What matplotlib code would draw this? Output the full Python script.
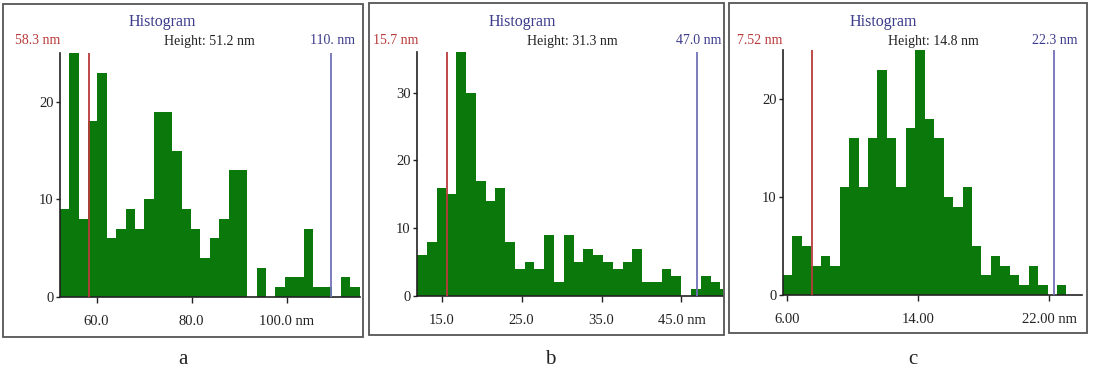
import matplotlib
matplotlib.use('Agg')
import matplotlib.pyplot as plt
from matplotlib.patches import Rectangle
import numpy as np

plt.rcParams['font.family'] = ['Liberation Serif', 'DejaVu Serif']

W, H = 1098, 369

# histogram counts, 32 bins each
counts_a = [9, 25, 8, 18, 23, 6, 7, 9, 7, 10, 19, 19, 15, 9, 7, 4,
            6, 8, 13, 13, 0, 3, 0, 1, 2, 2, 7, 1, 1, 0, 2, 1]
counts_b = [6, 8, 16, 15, 36, 30, 17, 14, 16, 8, 4, 5, 4, 9, 2, 9,
            5, 7, 6, 5, 4, 5, 7, 2, 2, 4, 3, 0, 1, 3, 2, 1]
counts_c = [2, 6, 5, 3, 4, 3, 11, 16, 11, 16, 23, 16, 11, 17, 25, 18,
            16, 10, 9, 11, 5, 2, 4, 3, 2, 1, 3, 1, 0, 1, 0, 0]

# first bin edge and bin width (nm)
bins_a = (52.3, 1.97)
bins_b = (11.9, 1.225)
bins_c = (5.74, 0.577)

xlim_a = (52.3, 115.4)
xlim_b = (11.9, 50.2)
xlim_c = (5.74, 24.0)
ymax = [25, 36, 25]

xticks_a = [60, 80, 100]
xticks_b = [15, 25, 35, 45]
xticks_c = [6, 14, 22]
xlabels_a = ['60.0', '80.0', '100.0 nm']
xlabels_b = ['15.0', '25.0', '35.0', '45.0 nm']
xlabels_c = ['6.00', '14.00', '22.00 nm']
yticks_a = [0, 10, 20]
yticks_b = [0, 10, 20, 30]
yticks_c = [0, 10, 20]

# cursor positions and header texts
red_pos = [58.3, 15.7, 7.52]
blue_pos = [109.2, 47.0, 22.3]
red_txt = ['58.3 nm', '15.7 nm', '7.52 nm']
blue_txt = ['110. nm', '47.0 nm', '22.3 nm']
height_txt = ['Height: 51.2 nm', 'Height: 31.3 nm', 'Height: 14.8 nm']
letters = ['a', 'b', 'c']

green = '#0a780a'
red = '#b83a3a'
blue = '#3c3c8c'


def fx(px):
    return px / W


def fy(py):
    return 1 - py / H


fig = plt.figure(figsize=(W / 100, H / 100), dpi=100)

# axes rectangles in pixels: left, right, top, baseline
ax_px = [(60, 360, 53, 297), (417, 723, 52, 296), (783, 1082, 50, 295)]
box_px = [(3, 363, 4, 337), (369, 724, 3, 335), (729, 1087, 3, 333)]
# header text centres (x) for red label, Histogram, Height, blue label
hdr_px = [(38, 162, 209, 332), (396, 522, 572, 699), (760, 883, 933, 1055)]
letter_x = [183, 550, 913]

data = [(counts_a, bins_a, xlim_a, xticks_a, xlabels_a, yticks_a),
        (counts_b, bins_b, xlim_b, xticks_b, xlabels_b, yticks_b),
        (counts_c, bins_c, xlim_c, xticks_c, xlabels_c, yticks_c)]

for i, (cnt, bn, xl, xt, xlab, yt) in enumerate(data):
    l, r, t, b = ax_px[i]
    ax = fig.add_axes([fx(l), fy(b), fx(r - l), (b - t) / H])
    edges = bn[0] + bn[1] * np.arange(len(cnt))
    ax.bar(edges, cnt, width=bn[1], align='edge', color=green, linewidth=0)
    ax.vlines(blue_pos[i], 0, ymax[i], color='#7272b8', lw=1.3, zorder=3)
    ax.vlines(red_pos[i], 0, ymax[i], color=red, lw=1.3, zorder=3)
    ax.set_xlim(xl)
    ax.set_ylim(0, ymax[i])
    ax.set_xticks(xt)
    ax.set_xticklabels(xlab)
    ax.set_yticks(yt)
    for s in ['top', 'right']:
        ax.spines[s].set_visible(False)
    for s in ['left', 'bottom']:
        ax.spines[s].set_linewidth(1.2)
        ax.spines[s].set_color('#222222')
    ax.tick_params(axis='x', length=4, width=1, pad=9, labelsize=10.5,
                   colors='#222222')
    ax.tick_params(axis='y', length=3, width=1, pad=1.5, labelsize=10.5,
                   colors='#222222')
    ax.patch.set_alpha(0)

    bl, br, bt, bb = box_px[i]
    fig.patches.append(Rectangle((fx(bl), fy(bb)), fx(br - bl), (bb - bt) / H,
                                 transform=fig.transFigure, fill=False,
                                 edgecolor='#555555', lw=1.3))

    hx = hdr_px[i]
    fig.text(fx(hx[0]), fy(41), red_txt[i], ha='center', va='center',
             color=red, fontsize=10)
    fig.text(fx(hx[1]), fy(22), 'Histogram', ha='center', va='center',
             color=blue, fontsize=11.5)
    fig.text(fx(hx[2]), fy(41), height_txt[i], ha='center', va='center',
             color='#222222', fontsize=10)
    fig.text(fx(hx[3]), fy(41), blue_txt[i], ha='center', va='center',
             color=blue, fontsize=10)
    fig.text(fx(letter_x[i]), fy(350), letters[i], ha='center', va='top',
             color='#222222', fontsize=15)

fig.savefig('out.png', dpi=100)
